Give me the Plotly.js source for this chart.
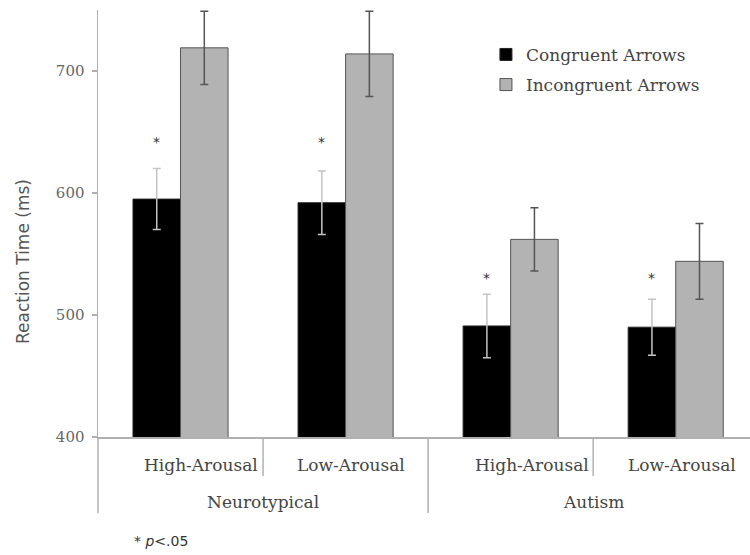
<!DOCTYPE html>
<html>
<head>
<meta charset="utf-8">
<script src="https://cdn.plot.ly/plotly-3.0.1.min.js"></script>
<style>html,body{margin:0;padding:0;background:#fff;}#chart{width:750px;height:555px;}</style>
</head>
<body>
<div id="chart"></div>
<script>
// ---- data ----
const groups = ["Neurotypical", "Autism"];
const subLabels = ["High-Arousal", "Low-Arousal", "High-Arousal", "Low-Arousal"];
const seriesNames = ["Congruent Arrows", "Incongruent Arrows"];
const congruent = [595, 592, 491, 490];
const congruentErr = [25, 26, 26, 23];
const incongruent = [719, 714, 562, 544];
const incongruentErr = [30, 35, 26, 31];
const starY = [642, 642, 530, 530];
const yTicks = [400, 500, 600, 700];

// ---- layout helpers ----
const xRange = [-0.5, 3.45];
const bargap = 0.424;
const xpos = subLabels.map((_, i) => i);
const toPaper = v => (v - xRange[0]) / (xRange[1] - xRange[0]);
const serif = "DejaVu Serif";
const sans = "DejaVu Sans";

const traces = [
  {
    type: "bar", name: seriesNames[0], x: xpos, y: congruent,
    legendgroup: "a",
    marker: {color: "#000000", line: {color: "#222", width: 1}},
    error_y: {type: "data", array: congruentErr, visible: true, color: "#c4c4c4", thickness: 1.5, width: 4}
  },
  {
    type: "bar", name: seriesNames[1], x: xpos, y: incongruent,
    legendgroup: "b",
    marker: {color: "#b3b3b3", line: {color: "#555", width: 1}},
    error_y: {type: "data", array: incongruentErr, visible: true, color: "#555", thickness: 1.5, width: 4}
  }
];

const annotations = [];
const subShift = [20, 5, 21, 6];
subLabels.forEach((t, i) => annotations.push({
  text: t, xref: "x", x: xpos[i], xshift: subShift[i], yref: "paper", y: -0.0656,
  showarrow: false, xanchor: "center", yanchor: "middle",
  font: {family: serif, size: 17, color: "#444"}
}));
groups.forEach((g, k) => annotations.push({
  text: g, xref: "x", x: 2 * k + 0.5, yref: "paper", y: -0.152,
  showarrow: false, xanchor: "center", yanchor: "middle",
  font: {family: serif, size: 17, color: "#444"}
}));
const halfBar = (1 - bargap) / 4;
starY.forEach((v, i) => annotations.push({
  text: "*", xref: "x", x: xpos[i] - halfBar, yref: "y", y: v,
  showarrow: false, xanchor: "center", yanchor: "middle",
  font: {family: sans, size: 14, color: "#333"}
}));
annotations.push({
  text: "Reaction Time (ms)", textangle: -90, xref: "paper", x: -0.115, yref: "paper", y: 0.41,
  showarrow: false, xanchor: "center", yanchor: "middle",
  font: {family: sans, size: 17, color: "#555"}
});
annotations.push({
  text: "* <i>p</i>&lt;.05", xref: "paper", x: 0.052, yref: "paper", y: -0.2436,
  showarrow: false, xanchor: "left", yanchor: "middle",
  font: {family: sans, size: 14, color: "#333"}
});

const shapes = [];
// short boundary ticks between sub-categories, long dividers between groups
[0.5, 2.5].forEach(b => shapes.push({
  type: "line", xref: "paper", yref: "paper", x0: toPaper(b), x1: toPaper(b), y0: 0, y1: -0.0913,
  line: {color: "#b0b0b0", width: 1.5}
}));
[-0.5, 1.5].forEach(b => shapes.push({
  type: "line", xref: "paper", yref: "paper", x0: toPaper(b), x1: toPaper(b), y0: 0, y1: -0.178,
  line: {color: "#b0b0b0", width: 1.5}
}));

const layout = {
  width: 750, height: 555,
  margin: {l: 98, r: 0, t: 10, b: 118},
  paper_bgcolor: "#fff", plot_bgcolor: "#fff",
  barmode: "group", bargap: bargap, bargroupgap: 0,
  showlegend: true,
  legend: {
    x: 0.595, y: 0.937, xanchor: "left", yanchor: "top",
    font: {family: serif, size: 17, color: "#444"},
    tracegroupgap: 5, bgcolor: "rgba(0,0,0,0)"
  },
  xaxis: {
    range: xRange, showticklabels: false, ticks: "", showgrid: false, zeroline: false,
    showline: true, linecolor: "#b0b0b0", linewidth: 1.5, fixedrange: true
  },
  yaxis: {
    range: [400, 750], tickvals: yTicks, ticks: "outside", ticklen: 5, tickcolor: "#b0b0b0", tickwidth: 1.5,
    ticklabelstandoff: 4,
    showgrid: false, zeroline: false, showline: true, linecolor: "#b0b0b0", linewidth: 1.5,
    tickfont: {family: serif, size: 15, color: "#666"}, fixedrange: true
  },
  annotations: annotations,
  shapes: shapes
};

Plotly.newPlot("chart", traces, layout, {displayModeBar: false, staticPlot: true});
</script>
</body>
</html>
